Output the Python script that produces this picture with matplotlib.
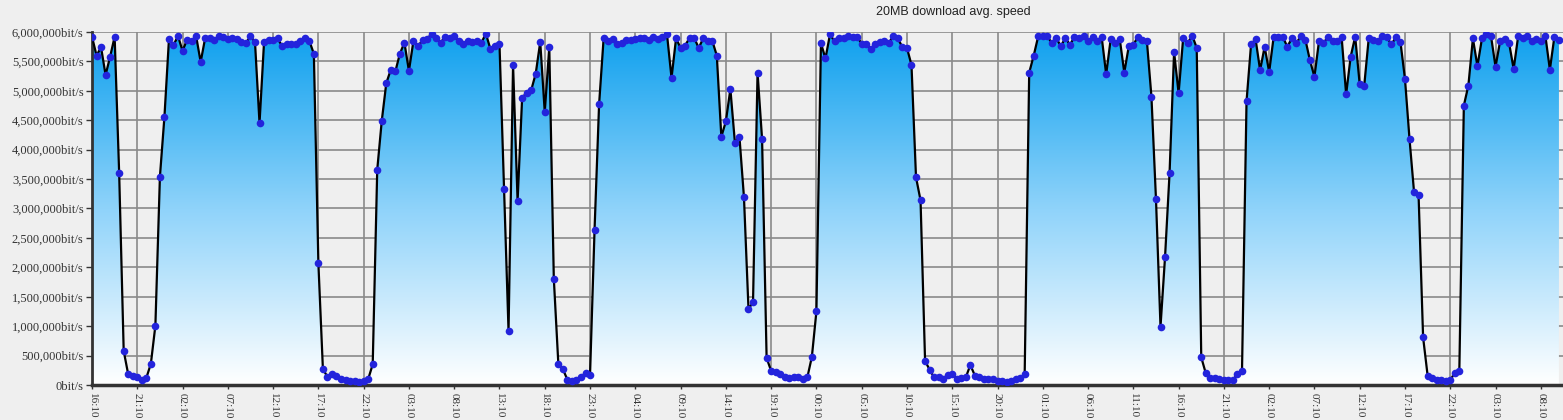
import numpy as np
import matplotlib
matplotlib.use("Agg")
import matplotlib.pyplot as plt
from matplotlib.colors import LinearSegmentedColormap
from matplotlib.ticker import FuncFormatter

# samples every 30 minutes, first one at 16:10 (values in Mbit/s)
start_minutes = 16 * 60 + 10
step_hours = 0.5
speed_mbit = [
    5.92, 5.60, 5.74, 5.27, 5.58, 5.92, 3.60, 0.58, 0.18, 0.15, 0.14, 0.09, 0.12, 0.36, 1.01, 3.54,
    4.56, 5.88, 5.78, 5.93, 5.68, 5.87, 5.84, 5.93, 5.49, 5.90, 5.90, 5.86, 5.94, 5.92, 5.88, 5.89,
    5.88, 5.83, 5.81, 5.93, 5.83, 4.45, 5.83, 5.87, 5.87, 5.89, 5.76, 5.80, 5.79, 5.80, 5.84, 5.90,
    5.85, 5.63, 2.07, 0.27, 0.14, 0.19, 0.16, 0.10, 0.085, 0.06, 0.06, 0.05, 0.06, 0.10, 0.35, 3.66,
    4.49, 5.13, 5.36, 5.33, 5.63, 5.82, 5.34, 5.85, 5.76, 5.86, 5.88, 5.97, 5.90, 5.82, 5.92, 5.90,
    5.94, 5.84, 5.79, 5.84, 5.83, 5.84, 5.82, 5.97, 5.71, 5.76, 5.80, 3.33, 0.92, 5.44, 3.13, 4.88,
    4.97, 5.01, 5.29, 5.83, 4.64, 5.74, 1.81, 0.36, 0.27, 0.09, 0.07, 0.09, 0.13, 0.21, 0.17, 2.64,
    4.77, 5.89, 5.84, 5.88, 5.80, 5.81, 5.87, 5.87, 5.88, 5.89, 5.89, 5.86, 5.92, 5.88, 5.92, 5.96,
    5.22, 5.89, 5.73, 5.77, 5.90, 5.90, 5.73, 5.89, 5.85, 5.85, 5.60, 4.22, 4.48, 5.03, 4.12, 4.22,
    3.19, 1.29, 1.41, 5.31, 4.18, 0.46, 0.24, 0.22, 0.19, 0.14, 0.12, 0.14, 0.14, 0.11, 0.13, 0.48,
    1.25, 5.81, 5.55, 5.96, 5.84, 5.90, 5.90, 5.94, 5.92, 5.92, 5.80, 5.80, 5.71, 5.79, 5.83, 5.84,
    5.81, 5.94, 5.89, 5.74, 5.73, 5.44, 3.53, 3.14, 0.41, 0.26, 0.13, 0.14, 0.11, 0.17, 0.19, 0.11,
    0.12, 0.13, 0.34, 0.16, 0.14, 0.10, 0.10, 0.11, 0.07, 0.07, 0.05, 0.07, 0.10, 0.12, 0.18, 5.31,
    5.60, 5.93, 5.93, 5.93, 5.81, 5.89, 5.76, 5.90, 5.78, 5.92, 5.89, 5.93, 5.85, 5.91, 5.85, 5.92,
    5.28, 5.88, 5.81, 5.88, 5.31, 5.76, 5.78, 5.92, 5.86, 5.84, 4.90, 3.16, 0.99, 2.17, 3.60, 5.66,
    4.96, 5.89, 5.81, 5.94, 5.73, 0.47, 0.20, 0.12, 0.12, 0.11, 0.085, 0.085, 0.09, 0.18, 0.23, 4.82,
    5.79, 5.88, 5.35, 5.75, 5.32, 5.92, 5.92, 5.92, 5.75, 5.89, 5.81, 5.93, 5.87, 5.52, 5.24, 5.84,
    5.81, 5.92, 5.84, 5.84, 5.92, 4.94, 5.58, 5.92, 5.11, 5.09, 5.90, 5.87, 5.84, 5.93, 5.91, 5.79,
    5.91, 5.83, 5.20, 4.18, 3.28, 3.23, 0.81, 0.16, 0.12, 0.08, 0.08, 0.06, 0.08, 0.21, 0.23, 4.75,
    5.09, 5.89, 5.42, 5.89, 5.97, 5.93, 5.41, 5.84, 5.88, 5.81, 5.37, 5.93, 5.89, 5.93, 5.84, 5.88,
    5.84, 5.94, 5.36, 5.92, 5.87,
]
tick_every_hours = 5
y_ticks = list(range(0, 6000001, 500000))
title = "20MB download avg. speed"

speed = np.array(speed_mbit) * 1e6
hours = np.arange(len(speed)) * step_hours

bg = "#efefef"
fig = plt.figure(figsize=(15.63, 4.2), dpi=100, facecolor=bg)
ax = fig.add_axes([92 / 1563, 35 / 420, 1 - 92 / 1563, 353 / 420])
ax.set_facecolor(bg)

x_max = 162.45
# gradient fill under the line
fill = ax.fill_between(hours, speed, 0, facecolor="none", edgecolor="none")
cmap = LinearSegmentedColormap.from_list("dl", ["#ffffff", "#8fd3fa", "#0ea0ee"])
grad = np.linspace(0, 1, 256).reshape(-1, 1)
im = ax.imshow(grad, cmap=cmap, aspect="auto", origin="lower",
               extent=[0, x_max, 0, 6e6], zorder=2)
im.set_clip_path(fill.get_paths()[0], transform=ax.transData)

ax.plot(hours, speed, color="black", lw=1.6, zorder=3)
ax.plot(hours, speed, "o", color="#2323dc", ms=5.5, mec="none", zorder=4)

ax.set_xlim(0, x_max)
ax.set_ylim(0, 6e6)

# axes and grid
x_ticks = np.arange(0, x_max, tick_every_hours)
x_labels = []
for t in x_ticks:
    m = int(start_minutes + t * 60) % 1440
    x_labels.append("%02d:%02d" % (m // 60, m % 60))
ax.set_xticks(x_ticks)
ax.set_xticklabels(x_labels, rotation=-90, family="Liberation Serif",
                   fontsize=8, color="#333333")
ax.set_yticks(y_ticks)
ax.yaxis.set_major_formatter(FuncFormatter(lambda v, p: "{:,}bit/s".format(int(v))))
for lab in ax.get_yticklabels():
    lab.set_family("Liberation Serif")
    lab.set_fontsize(9)
    lab.set_color("#333333")

ax.grid(True, color="#8a8a8a", lw=1.2, zorder=0)
ax.set_axisbelow(True)
for s in ["top", "right"]:
    ax.spines[s].set_visible(False)
ax.spines["left"].set_color("#333333")
ax.spines["left"].set_linewidth(2)
ax.spines["bottom"].set_color("#333333")
ax.spines["bottom"].set_linewidth(2.5)
ax.tick_params(axis="y", length=4, width=1, color="#333333", pad=2)
ax.tick_params(axis="x", length=3, width=1, color="#333333", pad=3)

fig.text(953 / 1563, 1 - 12 / 420, title, ha="center", va="center",
         fontsize=9, color="#222222", family="Liberation Sans")

fig.savefig("out.png", dpi=100, facecolor=bg)
